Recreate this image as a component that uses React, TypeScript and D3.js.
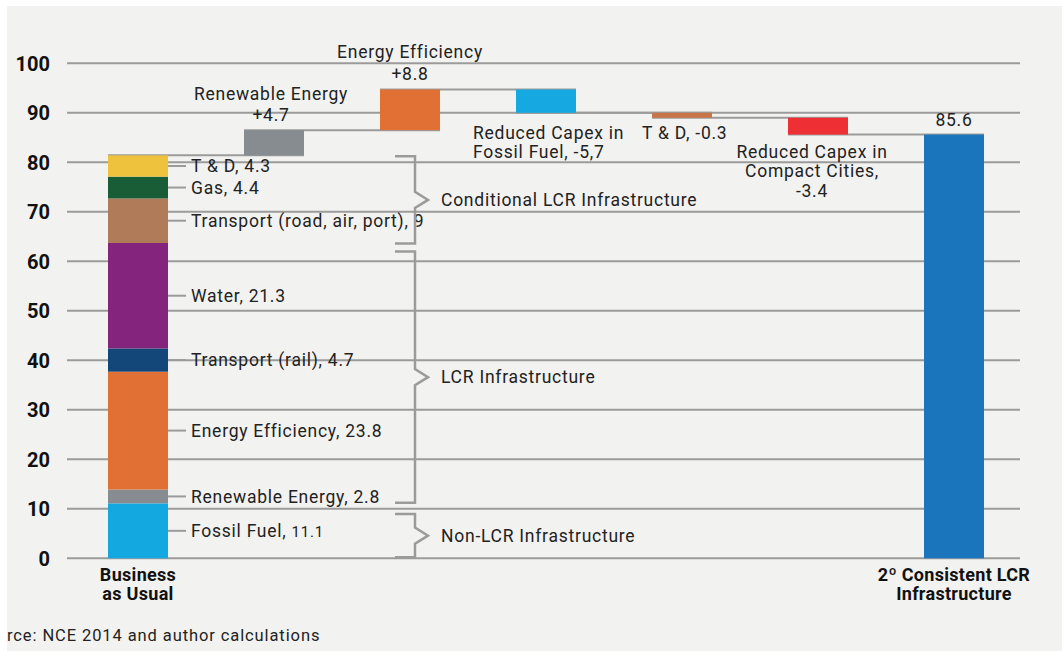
import React from "react";
import * as d3 from "d3";

// Business as usual stack (bottom to top)
const bauCategories = [
  "Fossil Fuel",
  "Renewable Energy",
  "Energy Efficiency",
  "Transport (rail)",
  "Water",
  "Transport (road, air, port)",
  "Gas",
  "T & D",
];
const bauValues = [11.1, 2.8, 23.8, 4.7, 21.3, 9, 4.4, 4.3];
const bauValueText = ["11.1", "2.8", "23.8", "4.7", "21.3", "9", "4.4", "4.3"];
const bauColors = ["#14a8e0", "#878c90", "#e07033", "#134679", "#84247c", "#b07b58", "#185d35", "#efc23d"];

// waterfall steps (bar heights as drawn in the figure)
const steps = [
  "Renewable Energy",
  "Energy Efficiency",
  "Reduced Capex in Fossil Fuel",
  "T & D",
  "Reduced Capex in Compact Cities",
];
const stepDeltas = [5.1, 8.2, -4.7, -1.0, -3.4];
const stepColors = ["#878c90", "#e07033", "#16a8e0", "#c8754a", "#ee3034"];
const stepLabels = [
  ["Renewable Energy", "+4.7"],
  ["Energy Efficiency", "+8.8"],
  ["Reduced Capex in", "Fossil Fuel, -5,7"],
  ["T & D, -0.3"],
  ["Reduced Capex in", "Compact Cities,", "-3.4"],
];

const finalName = "2º Consistent LCR Infrastructure";
const finalLabel = "85.6";
const yTicks = [0, 10, 20, 30, 40, 50, 60, 70, 80, 90, 100];

// groupings shown with braces (value ranges)
const groupNames = ["Conditional LCR Infrastructure", "LCR Infrastructure", "Non-LCR Infrastructure"];
const groupRanges = [[63.6, 81.2], [11.2, 62.0], [0.2, 8.95]];

const sourceText = "rce: NCE 2014 and author calculations";

const W = 1062;
const H = 651;
const font = "Roboto, 'Noto Sans', sans-serif";
const txt = "#222";
const lineCol = "#9b9b9b";
const fs = 17.5;
const ls = 0.75;

const columns = ["Business as Usual", ...steps, finalName];

const x = d3.scaleBand()
  .domain(columns)
  .range([70, 1022])
  .paddingInner(76 / 136)
  .paddingOuter(38 / 136);

const y = d3.scaleLinear().domain([0, 100]).range([558.3, 63.3]);

export default function App() {
  const bw = x.bandwidth();
  const bauX = x(columns[0])!;
  const bauTop = d3.sum(bauValues);
  const stackEnds = d3.cumsum(bauValues);
  const levels = Array.from(d3.cumsum([bauTop, ...stepDeltas]));
  const finalValue = levels[levels.length - 1];
  const finalX = x(finalName)!;

  const T = { fontFamily: font, fontSize: fs, letterSpacing: ls, fill: txt };

  return (
    <div style={{ position: "absolute", left: 0, top: 0 }}>
      <svg width={W} height={H} style={{ display: "block" }}>
        <rect x={0} y={0} width={W} height={H} fill="#fff" />
        <rect x={7} y={6} width={W - 7} height={H - 6} fill="#f2f2f0" />

        {/* grid + y labels */}
        {yTicks.map((t) => (
          <g key={t}>
            <line x1={67} x2={1020} y1={y(t)} y2={y(t)} stroke={lineCol} strokeWidth={2} />
            <text x={50} y={y(t)} dy="0.36em" textAnchor="end" fontFamily={font} fontSize={20} fontWeight={700} fill="#111">
              {t}
            </text>
          </g>
        ))}

        {/* connectors */}
        {levels.map((lv, i) => (
          <line
            key={"c" + i}
            x1={x(columns[i])!}
            x2={x(columns[i + 1])! + bw}
            y1={y(lv)}
            y2={y(lv)}
            stroke={lineCol}
            strokeWidth={2}
          />
        ))}

        {/* BAU stack */}
        {bauValues.map((v, i) => (
          <rect
            key={"b" + i}
            x={bauX}
            width={bw}
            y={y(stackEnds[i])}
            height={y(stackEnds[i] - v) - y(stackEnds[i])}
            fill={bauColors[i]}
          />
        ))}

        {/* leaders + stack labels */}
        {bauValues.map((v, i) => {
          const mid = y(stackEnds[i] - v / 2);
          return (
            <g key={"l" + i}>
              <line x1={bauX + bw} x2={186} y1={mid} y2={mid} stroke={lineCol} strokeWidth={2} />
              <text x={191} y={mid} dy="0.36em" {...T}>
                {bauCategories[i]},{" "}
                <tspan fontSize={i === 0 ? 15 : fs}>{bauValueText[i]}</tspan>
              </text>
            </g>
          );
        })}

        {/* waterfall bars */}
        {stepDeltas.map((d, i) => {
          const a = levels[i];
          const b = levels[i + 1];
          return (
            <rect
              key={"s" + i}
              x={x(steps[i])!}
              width={bw}
              y={y(Math.max(a, b))}
              height={y(Math.min(a, b)) - y(Math.max(a, b))}
              fill={stepColors[i]}
            />
          );
        })}

        {/* final bar */}
        <rect x={finalX} width={bw} y={y(finalValue)} height={y(0) - y(finalValue)} fill="#1b75bc" />
        <text x={finalX + bw / 2} y={y(finalValue) - 9} textAnchor="middle" {...T}>
          {finalLabel}
        </text>

        {/* step labels */}
        <text textAnchor="middle" {...T}>
          {stepLabels[0].map((s, k) => (
            <tspan key={k} x={x(steps[0])! + bw / 2 - 3} y={y(levels[1]) - 30 + k * 20.5}>{s}</tspan>
          ))}
        </text>
        <text textAnchor="middle" {...T}>
          {stepLabels[1].map((s, k) => (
            <tspan key={k} x={x(steps[1])! + bw / 2} y={y(levels[2]) - 32 + k * 22}>{s}</tspan>
          ))}
        </text>
        <text {...T}>
          {stepLabels[2].map((s, k) => (
            <tspan key={k} x={x(steps[2])! - 43} y={y(levels[3]) + 26 + k * 19.5}>{s}</tspan>
          ))}
        </text>
        <text {...T}>
          <tspan x={x(steps[3])! - 10} y={y(levels[3]) + 26}>{stepLabels[3][0]}</tspan>
        </text>
        <text textAnchor="middle" {...T}>
          {stepLabels[4].map((s, k) => (
            <tspan key={k} x={x(steps[4])! + bw / 2 - 6} y={y(levels[5]) + 23 + k * 19.5}>{s}</tspan>
          ))}
        </text>

        {/* braces */}
        {groupRanges.map(([lo, hi], i) => {
          const yt = y(hi);
          const yb = y(lo);
          const ym = (yt + yb) / 2;
          const p = d3.path();
          p.moveTo(395, yt);
          p.lineTo(415, yt);
          p.lineTo(415, ym - 8);
          p.lineTo(428, ym);
          p.lineTo(415, ym + 8);
          p.lineTo(415, yb);
          p.lineTo(395, yb);
          return (
            <g key={"g" + i}>
              <path d={p.toString()} fill="none" stroke={lineCol} strokeWidth={2.5} />
              <text x={441} y={ym} dy="0.36em" {...T}>
                {groupNames[i]}
              </text>
            </g>
          );
        })}

        {/* category labels */}
        <text textAnchor="middle" fontFamily={font} fontSize={18} fontWeight={700} letterSpacing={0.3} fill="#111">
          <tspan x={bauX + bw / 2} y={581}>Business</tspan>
          <tspan x={bauX + bw / 2} y={600}>as Usual</tspan>
        </text>
        <text textAnchor="middle" fontFamily={font} fontSize={18} fontWeight={700} letterSpacing={0.3} fill="#111">
          <tspan x={finalX + bw / 2} y={581}>2º Consistent LCR</tspan>
          <tspan x={finalX + bw / 2} y={600}>Infrastructure</tspan>
        </text>

        {/* source */}
        <text x={7} y={641} fontFamily={font} fontSize={16.5} letterSpacing={0.9} fill={txt}>
          {sourceText}
        </text>
      </svg>
    </div>
  );
}
